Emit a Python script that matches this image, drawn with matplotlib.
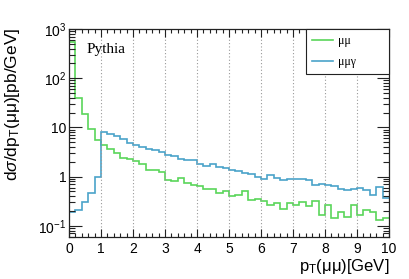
import numpy as np
import matplotlib
matplotlib.use("Agg")
import matplotlib.pyplot as plt
from matplotlib.ticker import FixedLocator, MultipleLocator, FuncFormatter, LogLocator, NullFormatter

plt.rcParams['font.family'] = ['Liberation Sans', 'DejaVu Sans']
plt.rcParams['mathtext.fontset'] = 'custom'
plt.rcParams['mathtext.rm'] = 'Liberation Sans'
plt.rcParams['mathtext.it'] = 'Liberation Sans:italic'
plt.rcParams['mathtext.sf'] = 'Liberation Sans'

# ---- data ----
bin_edges = np.linspace(0.0, 10.0, 51)
mumu = [550, 39, 18.8, 9.3, 5.6,
        4.3, 3.7, 2.98, 2.36, 2.25,
        2.1, 1.8, 1.38, 1.34, 1.25,
        0.87, 0.8, 0.95, 0.74, 0.66,
        0.63, 0.56, 0.56, 0.46, 0.51,
        0.405, 0.42, 0.50, 0.336, 0.357,
        0.325, 0.26, 0.287, 0.22, 0.287,
        0.266, 0.30, 0.25, 0.325, 0.166,
        0.266, 0.142, 0.188, 0.154, 0.266,
        0.166, 0.21, 0.188, 0.132, 0.142]
mumugamma = [0.194, 0.21, 0.30, 0.46, 0.97,
             8.2, 7.5, 6.7, 5.7, 4.75,
             4.4, 4.07, 3.65, 3.49, 3.1,
             2.7, 2.58, 2.32, 2.22, 2.13,
             1.84, 1.66, 1.78, 1.6, 1.52,
             1.37, 1.32, 1.21, 1.11, 1.0,
             0.90, 1.08, 0.92, 0.84, 0.91,
             0.90, 0.90, 0.84, 0.69, 0.70,
             0.68, 0.63, 0.56, 0.54, 0.57,
             0.60, 0.53, 0.43, 0.61, 0.36]
series_labels = ['μμ', 'μμγ']
x_ticks = [0, 1, 2, 3, 4, 5, 6, 7, 8, 9, 10]
y_ticks = [0.1, 1, 10, 100, 1000]
y_tick_labels = ['$10^{-1}$', '1', '10', '$10^{2}$', '$10^{3}$']

green = '#5ad65a'
blue = '#4aa3c9'

W, H = 409, 279
fig = plt.figure(figsize=(W / 100, H / 100), dpi=100)
ax = fig.add_axes([69 / W, 1 - 236.7 / H, 320 / W, 207.7 / H])

ax.stairs(mumu, bin_edges, baseline=None, color=green, lw=1.2, label=series_labels[0])
ax.stairs(mumugamma, bin_edges, baseline=None, color=blue, lw=1.2, label=series_labels[1])

ax.set_yscale('log')
ax.set_xlim(0, 10)
ax.set_ylim(0.06, 1000)


def ylab(v, pos):
    i = int(np.argmin([abs(np.log10(t) - np.log10(v)) for t in y_ticks]))
    return y_tick_labels[i]


ax.xaxis.set_major_locator(FixedLocator(x_ticks))
ax.xaxis.set_minor_locator(MultipleLocator(0.2))
ax.yaxis.set_major_locator(FixedLocator(y_ticks))
ax.yaxis.set_major_formatter(FuncFormatter(ylab))
ax.yaxis.set_minor_locator(LogLocator(base=10, subs=np.arange(2, 10), numticks=20))
ax.yaxis.set_minor_formatter(NullFormatter())

ax.tick_params(axis='both', which='both', direction='in', top=True, right=True,
               labelsize=10, width=0.8, color='#222222')
ax.tick_params(axis='x', which='major', length=6, pad=4)
ax.tick_params(axis='x', which='minor', length=3)
ax.tick_params(axis='y', which='major', length=9, pad=2)
ax.tick_params(axis='y', which='minor', length=4.5)
for s in ax.spines.values():
    s.set_linewidth(0.9)
    s.set_color('#222222')

ax.xaxis.grid(True, which='major', linestyle=(0, (1, 2)), color='#999999', lw=0.8)

ax.text(0.056, 0.9, 'Pythia', transform=ax.transAxes, family='Liberation Serif',
        fontsize=11, ha='left', va='center')

leg = ax.legend(loc='upper left', bbox_to_anchor=(0.741, 0.803, 0.259, 0.197), mode='expand',
                borderaxespad=0, fancybox=False, edgecolor='#222222', framealpha=1,
                prop={'family': 'Liberation Serif', 'size': 8.5}, handlelength=1.8,
                handletextpad=0.4, labelspacing=0.8, borderpad=0.5)
leg.get_frame().set_linewidth(0.8)

fig.text(13 / W, 1 - 28 / H, r'd$\sigma$/dp$_{\mathrm{T}}$(μμ)[pb/GeV]', rotation=90,
         ha='center', va='top', fontsize=12.5)
fig.text(389 / W, 1 - 271 / H, r'p$_{\mathrm{T}}$(μμ)[GeV]', ha='right', va='baseline',
         fontsize=12)

fig.savefig('out.png', dpi=100)
